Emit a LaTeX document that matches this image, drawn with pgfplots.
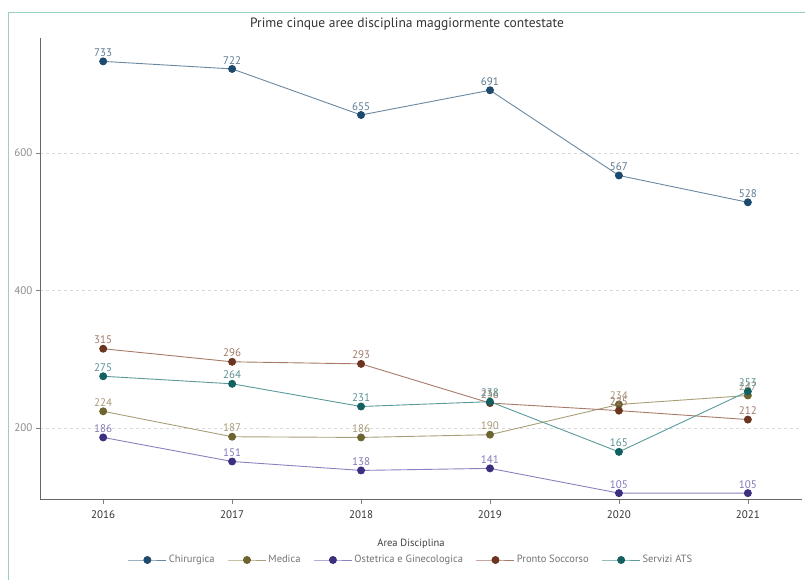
\documentclass[border=0pt]{standalone}
\usepackage{pgfplots}
\pgfplotsset{compat=1.18}
\usepackage{fontspec}
\setmainfont{PT Sans}
\definecolor{chM}{HTML}{1D4A6E}\definecolor{chL}{HTML}{6A88A0}\definecolor{chT}{HTML}{5A7890}
\definecolor{meM}{HTML}{6E6430}\definecolor{meL}{HTML}{A89F78}\definecolor{meT}{HTML}{A89878}
\definecolor{osM}{HTML}{3A2F80}\definecolor{osL}{HTML}{8A82C0}\definecolor{osT}{HTML}{8078B8}
\definecolor{prM}{HTML}{6B3520}\definecolor{prL}{HTML}{A87A68}\definecolor{prT}{HTML}{A07868}
\definecolor{seM}{HTML}{136060}\definecolor{seL}{HTML}{5A9A9A}\definecolor{seT}{HTML}{5A8F92}
\definecolor{frame}{HTML}{9CCFC4}
\begin{document}
\begin{tikzpicture}[x=1pt,y=1pt]
\path[use as bounding box] (0,0) rectangle (805,580);
\draw[frame,line width=0.8pt] (8,0) -- (8,568) -- (805,568);
\node[font=\fontsize{13.5}{15}\selectfont, text=black!80] at (407,556) {Prime cinque aree disciplina maggiormente contestate};
\begin{axis}[
  at={(40pt,80pt)}, anchor=south west, scale only axis,
  width=762pt, height=462pt,
  xmin=2015.51, xmax=2021.42, ymin=95, ymax=767,
  axis x line*=bottom, axis y line*=left,
  axis line style={black!60, line width=1pt},
  xtick={2016,2017,2018,2019,2020,2021},
  xticklabels={2016,2017,2018,2019,2020,2021},
  ytick={200,400,600},
  tick align=outside, major tick length=4pt,
  tick style={black!50, line width=0.6pt},
  ymajorgrids, grid style={black!15, dashed, line width=0.5pt},
  /pgf/number format/assume math mode=true,
  xticklabel style={font=\fontsize{11}{13}\selectfont, text=black!80, yshift=-3pt},
  yticklabel style={font=\fontsize{11}{13}\selectfont, text=black!45},
  clip=false,
  nodes near coords,
  every node near coord/.append style={font=\fontsize{11}{13}\selectfont, anchor=south, yshift=1pt},
  legend style={at={(371pt,-60pt)}, anchor=center, draw=none, legend columns=5,
     font=\fontsize{10.5}{12}\selectfont, text=black!55,
     /tikz/every even column/.append style={column sep=11pt},
     nodes={inner sep=2pt}},
  legend image code/.code={\draw[mark repeat=2,mark phase=2,#1] plot coordinates {(0pt,0pt) (19pt,0pt) (38pt,0pt)};},
]
\addplot[chL, line width=0.9pt, mark=*, mark size=3.5pt, mark options={fill=chM, draw=chM}, every node near coord/.append style={text=chT}] coordinates {(2016,733) (2017,722) (2018,655) (2019,691) (2020,567) (2021,528)};
\addlegendentry{Chirurgica}
\addplot[meL, line width=0.9pt, mark=*, mark size=3.5pt, mark options={fill=meM, draw=meM}, every node near coord/.append style={text=meT}] coordinates {(2016,224) (2017,187) (2018,186) (2019,190) (2020,234) (2021,247)};
\addlegendentry{Medica}
\addplot[osL, line width=0.9pt, mark=*, mark size=3.5pt, mark options={fill=osM, draw=osM}, every node near coord/.append style={text=osT}] coordinates {(2016,186) (2017,151) (2018,138) (2019,141) (2020,105) (2021,105)};
\addlegendentry{Ostetrica e Ginecologica}
\addplot[prL, line width=0.9pt, mark=*, mark size=3.5pt, mark options={fill=prM, draw=prM}, every node near coord/.append style={text=prT}] coordinates {(2016,315) (2017,296) (2018,293) (2019,236) (2020,225) (2021,212)};
\addlegendentry{Pronto Soccorso}
\addplot[seL, line width=0.9pt, mark=*, mark size=3.5pt, mark options={fill=seM, draw=seM}, every node near coord/.append style={text=seT}] coordinates {(2016,275) (2017,264) (2018,231) (2019,238) (2020,165) (2021,253)};
\addlegendentry{Servizi ATS}
\end{axis}
\node[font=\fontsize{10.5}{12}\selectfont, text=black!75] at (411,36) {Area Disciplina};
\end{tikzpicture}
\end{document}
